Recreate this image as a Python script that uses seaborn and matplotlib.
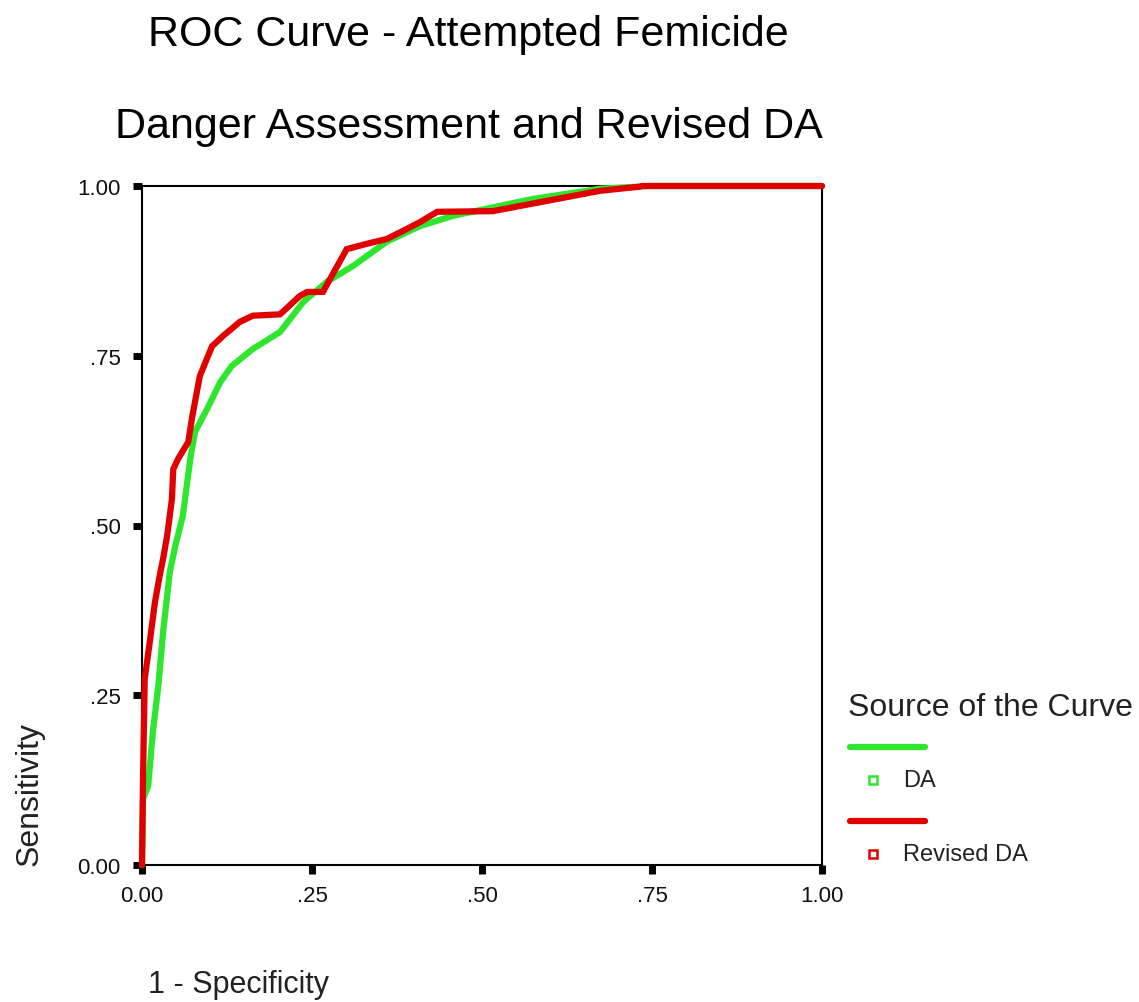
import pandas as pd
import matplotlib
matplotlib.use("Agg")
import matplotlib.pyplot as plt
import seaborn as sns
from matplotlib.lines import Line2D

sns.set_theme(style="white")
plt.rcParams["font.family"] = ["Liberation Sans", "DejaVu Sans"]

# --- data -----------------------------------------------------------------
da_fpr = [0.0, 0.0015, 0.009, 0.016, 0.024, 0.031, 0.041, 0.049, 0.060, 0.071,
          0.078, 0.096, 0.115, 0.132, 0.163, 0.203, 0.237, 0.272, 0.310, 0.360,
          0.409, 0.457, 0.575, 0.674, 0.747, 1.0]
da_tpr = [0.0, 0.097, 0.116, 0.196, 0.264, 0.343, 0.432, 0.470, 0.514, 0.598,
          0.638, 0.672, 0.711, 0.735, 0.760, 0.785, 0.829, 0.859, 0.882, 0.918,
          0.941, 0.956, 0.981, 0.996, 1.0, 1.0]

rda_fpr = [0.0, 0.0015, 0.004, 0.012, 0.019, 0.026, 0.031, 0.037, 0.044, 0.046,
           0.053, 0.068, 0.074, 0.085, 0.103, 0.119, 0.144, 0.163, 0.203, 0.232,
           0.243, 0.266, 0.301, 0.331, 0.360, 0.384, 0.409, 0.434, 0.516, 0.674,
           0.732, 0.735, 1.0]
rda_tpr = [0.0, 0.127, 0.274, 0.333, 0.387, 0.426, 0.451, 0.485, 0.539, 0.583,
           0.598, 0.623, 0.661, 0.720, 0.764, 0.779, 0.800, 0.809, 0.811, 0.838,
           0.844, 0.844, 0.907, 0.915, 0.922, 0.934, 0.947, 0.962, 0.963, 0.993,
           0.999, 1.0, 1.0]

curve_names = ["DA", "Revised DA"]
curve_colors = {"DA": "#2ee62e", "Revised DA": "#e00000"}
tick_vals = [0.0, 0.25, 0.5, 0.75, 1.0]
tick_text = ["0.00", ".25", ".50", ".75", "1.00"]

df = pd.concat([
    pd.DataFrame({"fpr": da_fpr, "tpr": da_tpr, "source": "DA"}),
    pd.DataFrame({"fpr": rda_fpr, "tpr": rda_tpr, "source": "Revised DA"}),
], ignore_index=True)

# --- figure -----------------------------------------------------------------
fig = plt.figure(figsize=(11.39, 10.03), dpi=100)
ax = fig.add_axes([142 / 1139, 1 - 866 / 1003, 680 / 1139, 679 / 1003])

sns.lineplot(data=df, x="fpr", y="tpr", hue="source", hue_order=curve_names,
             palette=curve_colors, linewidth=4.5, estimator=None, sort=False,
             legend=False, ax=ax)
for ln in ax.lines:
    ln.set_clip_on(False)
    ln.set_solid_joinstyle("miter")

ax.set_xlim(0, 1)
ax.set_ylim(0, 1)
ax.set_xticks(tick_vals)
ax.set_xticklabels(tick_text)
ax.set_yticks(tick_vals)
ax.set_yticklabels(tick_text)
ax.set_xlabel("")
ax.set_ylabel("")
ax.tick_params(axis="both", bottom=True, left=True, direction="out",
               length=6.5, width=5, color="black", labelsize=16,
               labelcolor="#111111")
ax.tick_params(axis="x", pad=8)
ax.tick_params(axis="y", pad=9)
for sp in ax.spines.values():
    sp.set_visible(True)
    sp.set_color("black")
    sp.set_linewidth(1.5)
    sp.set_zorder(1)

# titles and axis labels
fig.text(468 / 1139, 1 - 46 / 1003, "ROC Curve - Attempted Femicide",
         ha="center", va="baseline", fontsize=31, color="black")
fig.text(469 / 1139, 1 - 138 / 1003, "Danger Assessment and Revised DA",
         ha="center", va="baseline", fontsize=31, color="black")
fig.text(30 / 1139, 1 - 866 / 1003, "Sensitivity", rotation=90,
         ha="center", va="bottom", fontsize=23, color="#222222")
fig.text(148 / 1139, 1 - 985 / 1003, "1 - Specificity",
         ha="left", va="center", fontsize=22, color="#222222")

# legend block
fig.text(848 / 1139, 1 - 708 / 1003, "Source of the Curve",
         ha="left", va="center", fontsize=23, color="#222222")
rows = [(748, 781, "DA"), (822, 855, "Revised DA")]
for line_y, lab_y, name in rows:
    fy = 1 - line_y / 1003
    fig.add_artist(Line2D([850 / 1139, 925 / 1139], [fy, fy],
                          color=curve_colors[name], linewidth=4.5))
    my = 1 - lab_y / 1003
    fig.add_artist(Line2D([873 / 1139], [my], marker="s", markersize=6,
                          markerfacecolor="white", markeredgewidth=1.8,
                          markeredgecolor=curve_colors[name], linestyle="none"))
    fig.text(903 / 1139, my, name, ha="left", va="center",
             fontsize=17, color="#222222")

plt.savefig("out.png", dpi=100, facecolor="white")
